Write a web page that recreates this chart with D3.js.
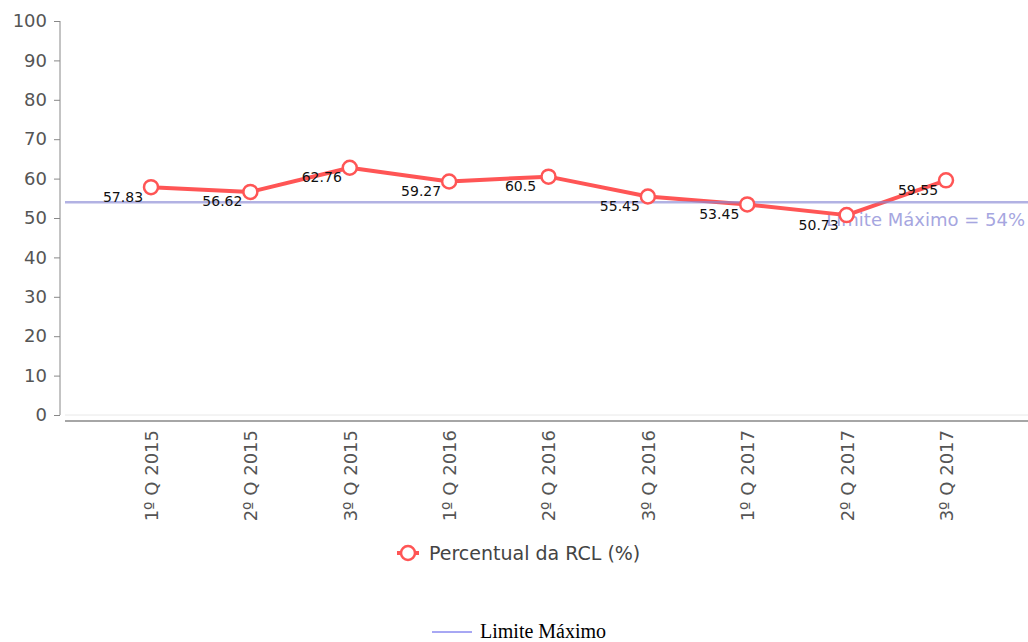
<!DOCTYPE html>
<html>
<head>
<meta charset="utf-8">
<script src="https://cdn.jsdelivr.net/npm/d3@7"></script>
<style>
  body { margin: 0; background: #fff; }
  svg { display: block; }
</style>
</head>
<body>
<div id="chart"></div>
<script>
const quarters = ['1º Q 2015', '2º Q 2015', '3º Q 2015', '1º Q 2016', '2º Q 2016', '3º Q 2016', '1º Q 2017', '2º Q 2017', '3º Q 2017']
const percentRCL = [57.83, 56.62, 62.76, 59.27, 60.5, 55.45, 53.45, 50.73, 59.55]
const limit = 54
const yTicks = [0, 10, 20, 30, 40, 50, 60, 70, 80, 90, 100]
const seriesName = 'Percentual da RCL (%)'
const limitLabel = 'Limite Máximo = 54%'
const limitLegend = 'Limite Máximo'

const width = 1028
const height = 642
const font = "'DejaVu Sans', Verdana, sans-serif"

const svg = d3.select('#chart').append('svg')
  .attr('width', width)
  .attr('height', height)

const x = d3.scalePoint().domain(quarters).range([151, 946])
const y = d3.scaleLinear().domain([0, 100]).range([415, 21])

// y axis
const yAxis = svg.append('g')
  .attr('transform', 'translate(60,0)')
  .call(d3.axisLeft(y).tickValues(yTicks).tickSize(6).tickPadding(7))
yAxis.select('.domain').attr('stroke', '#888').attr('d', `M0,${y(100)}V${y(0)}`)
yAxis.selectAll('.tick line').attr('stroke', '#888')
yAxis.selectAll('.tick text')
  .attr('fill', '#555')
  .style('font', `18px ${font}`)

// zero gridline and x axis
svg.append('line')
  .attr('x1', 65).attr('x2', width)
  .attr('y1', y(0)).attr('y2', y(0))
  .attr('stroke', '#e8e8e8')

const xAxis = svg.append('g')
  .attr('transform', 'translate(0,421)')
  .call(d3.axisBottom(x).tickSize(0).tickPadding(0))
xAxis.select('.domain').attr('stroke', '#888').attr('stroke-width', 1.5).attr('d', `M65,0H${width}`)
xAxis.selectAll('.tick text')
  .attr('fill', '#555')
  .style('font', `18px ${font}`)
  .attr('text-anchor', 'end')
  .attr('transform', 'rotate(-90)')
  .attr('x', -9)
  .attr('y', 0)
  .attr('dy', '0.36em')

// limit label (sits under markers)
svg.append('text')
  .attr('x', 1025).attr('y', 226)
  .attr('text-anchor', 'end')
  .attr('fill', '#a6a6e0')
  .style('font', `18px ${font}`)
  .text(limitLabel)

// series line
const line = d3.line().x((d, i) => x(quarters[i])).y(d => y(d))
svg.append('path')
  .datum(percentRCL)
  .attr('d', line)
  .attr('fill', 'none')
  .attr('stroke', '#ff5555')
  .attr('stroke-width', 4)
  .attr('stroke-linejoin', 'round')

// limit line
svg.append('line')
  .attr('x1', 65).attr('x2', width)
  .attr('y1', y(limit)).attr('y2', y(limit))
  .attr('stroke', '#8888d4')
  .attr('stroke-opacity', 0.65)
  .attr('stroke-width', 2.5)

// markers
svg.append('g').selectAll('circle')
  .data(percentRCL)
  .join('circle')
  .attr('cx', (d, i) => x(quarters[i]))
  .attr('cy', d => y(d))
  .attr('r', 7)
  .attr('fill', '#fff')
  .attr('stroke', '#ff5555')
  .attr('stroke-width', 2.5)

// data labels
svg.append('g').selectAll('text')
  .data(percentRCL)
  .join('text')
  .attr('x', (d, i) => x(quarters[i]) - 28)
  .attr('y', d => y(d) + 14.5)
  .attr('text-anchor', 'middle')
  .attr('fill', '#111')
  .style('font', `14px ${font}`)
  .text(d => d)

// legend: series
const lg = svg.append('g').attr('transform', 'translate(408,553)')
lg.append('line').attr('x1', -11).attr('x2', 11).attr('stroke', '#ff5555').attr('stroke-width', 4)
lg.append('circle').attr('r', 7).attr('fill', '#fff').attr('stroke', '#ff5555').attr('stroke-width', 2.5)
lg.append('text')
  .attr('x', 21).attr('y', 0).attr('dy', '0.36em')
  .attr('fill', '#444')
  .style('font', `19px ${font}`)
  .text(seriesName)

// legend: limit
const lg2 = svg.append('g').attr('transform', 'translate(432,632)')
lg2.append('line').attr('x1', 0).attr('x2', 40).attr('stroke', '#5050e8').attr('stroke-width', 1)
lg2.append('text')
  .attr('x', 48).attr('y', 0).attr('dy', '0.3em')
  .attr('fill', '#000')
  .style('font', "20px 'Liberation Serif', 'Times New Roman', serif")
  .text(limitLegend)
</script>
</body>
</html>
